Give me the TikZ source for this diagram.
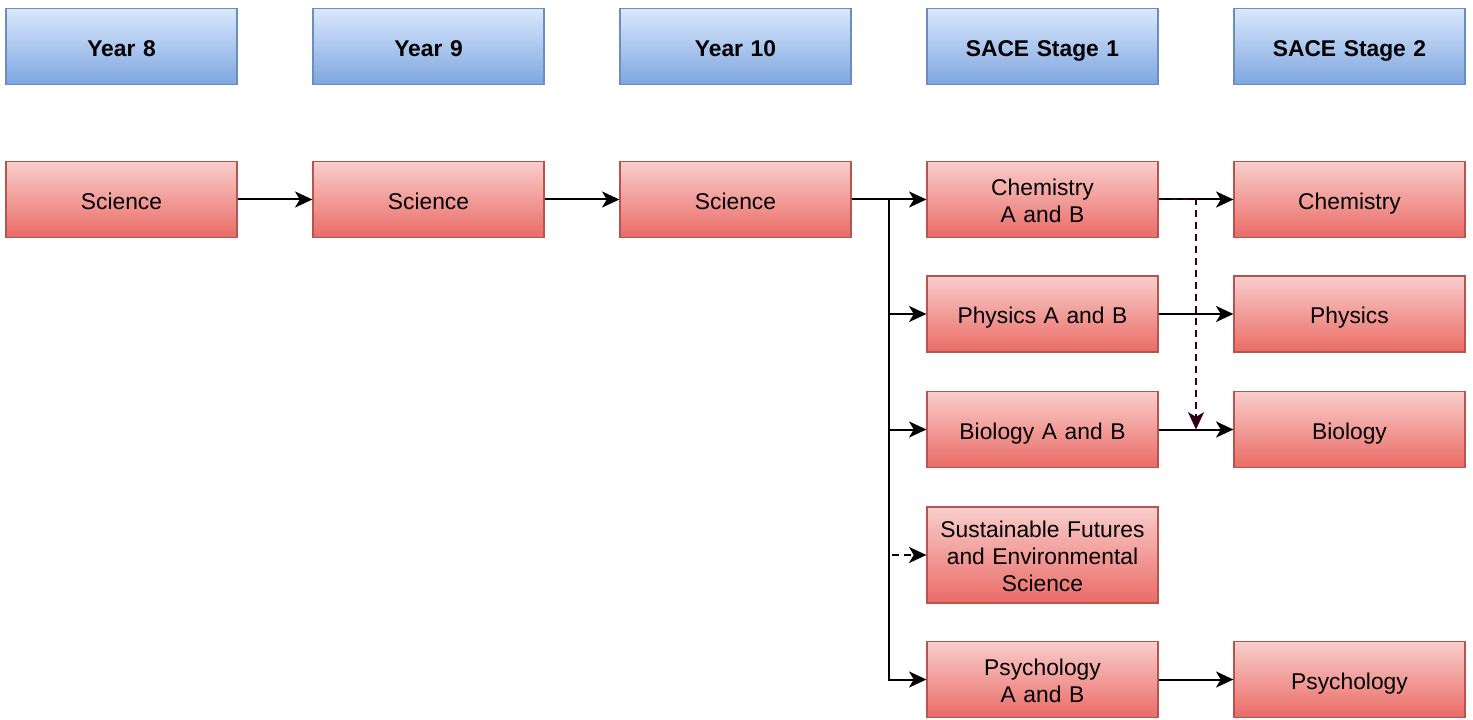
\documentclass[tikz,border=0pt]{standalone}
\usepackage{fontspec}
\setmainfont{Liberation Sans}
\usetikzlibrary{arrows.meta}
\definecolor{redtop}{HTML}{F8CECC}
\definecolor{redbot}{HTML}{EA6B66}
\definecolor{redline}{HTML}{B85450}
\definecolor{bluetop}{HTML}{DAE8FC}
\definecolor{bluebot}{HTML}{7EA6E0}
\definecolor{blueline}{HTML}{6C8EBF}
\definecolor{darkred}{HTML}{33001A}
\tikzset{
  base/.style={minimum width=173.25pt, minimum height=57pt, inner sep=0pt, align=center,
    text width=165pt, font=\fontsize{17.1}{20.25}\selectfont, line width=0.9pt,
    execute at begin node={\rule{0pt}{18.4pt}},
    execute at end node={\rule[-4pt]{0pt}{4pt}}},
  hdr/.style={base, draw=blueline, top color=bluetop, bottom color=bluebot, font=\fontsize{17.1}{20.25}\selectfont\bfseries},
  subj/.style={base, draw=redline, top color=redtop, bottom color=redbot},
  conn/.style={line width=1.5pt, -{Stealth[length=13pt,width=12pt,inset=3.5pt]}},
  dconn/.style={conn, dash pattern=on 5pt off 4pt}
}
\begin{document}
\begin{tikzpicture}[x=0.75pt,y=-0.75pt]
\useasboundingbox (0,0) rectangle (1473,720);
% headers
\node[hdr] (h8) at (121.5,46.5) {Year 8};
\node[hdr] (h9) at (428.5,46.5) {Year 9};
\node[hdr] (h10) at (735.5,46.5) {Year 10};
\node[hdr] (hs1) at (1042.5,46.5) {SACE Stage 1};
\node[hdr] (hs2) at (1349.5,46.5) {SACE Stage 2};
% science
\node[subj] (s8) at (121.5,199.5) {Science};
\node[subj] (s9) at (428.5,199.5) {Science};
\node[subj] (s10) at (735.5,199.5) {Science};
% stage 1
\node[subj] (chem1) at (1042.5,199.5) {Chemistry\\A and B};
\node[subj] (phys1) at (1042.5,314) {Physics A and B};
\node[subj] (bio1) at (1042.5,429.5) {Biology A and B};
\node[subj, minimum height=72pt] (sus1) at (1042.5,555) {Sustainable Futures\\and Environmental\\Science};
\node[subj] (psy1) at (1042.5,679.5) {Psychology\\A and B};
% stage 2
\node[subj] (chem2) at (1349.5,199.5) {Chemistry};
\node[subj] (phys2) at (1349.5,314) {Physics};
\node[subj] (bio2) at (1349.5,429.5) {Biology};
\node[subj] (psy2) at (1349.5,679.5) {Psychology};
% connectors
\draw[conn] (s8) -- (s9);
\draw[conn] (s9) -- (s10);
\coordinate (tr) at (889,199.5);
\draw[conn] (s10.east) -- (chem1.west);
\draw[conn] (s10.east) -| (tr) |- (phys1.west);
\draw[conn] (s10.east) -| (tr) |- (bio1.west);
\draw[dconn] (s10.east) -| (tr) |- (sus1.west);
\draw[conn] (s10.east) -| (tr) |- (psy1.west);
\draw[conn] (chem1) -- (chem2);
\draw[conn] (phys1) -- (phys2);
\draw[conn] (bio1) -- (bio2);
\draw[conn] (psy1) -- (psy2);
\coordinate (dtarget) at (1196,429.5);
\draw[dconn, draw=darkred] (chem1.east) -| (dtarget);
\end{tikzpicture}
\end{document}
